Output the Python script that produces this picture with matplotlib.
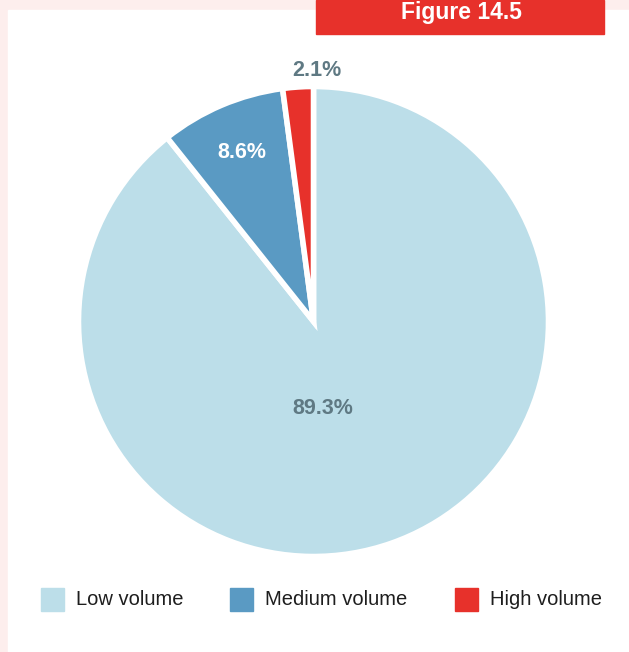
import matplotlib.pyplot as plt
from matplotlib.patches import Rectangle

plt.rcParams['font.family'] = ['Liberation Sans', 'DejaVu Sans']

categories = ['Low volume', 'Medium volume', 'High volume']
shares = [89.3, 8.6, 2.1]
colors = ['#bcdee9', '#5a9ac3', '#e7312b']

W, H = 629, 652
fig = plt.figure(figsize=(W / 100, H / 100), dpi=100)
fig.patch.set_facecolor('#fdeeed')

# white panel on the pinkish page
bg = fig.add_axes([0, 0, 1, 1])
bg.set_xlim(0, W)
bg.set_ylim(H, 0)
bg.axis('off')
bg.add_patch(Rectangle((8, 10), W, H, color='white', zorder=0))
bg.add_patch(Rectangle((316, 0), 288, 34, color='#e7312b', zorder=1))
bg.text(461, 13, 'Figure 14.5', color='white', fontsize=16.5, fontweight='bold',
        ha='center', va='center', zorder=2)

# pie in pixel-like coordinates (y up)
ax = fig.add_axes([0, 0, 1, 1])
ax.patch.set_alpha(0)
cx, cy, r = 313.5, H - 321.5, 235
wedges, _ = ax.pie(shares, colors=colors, startangle=90, counterclock=False,
                   center=(cx, cy), radius=r,
                   wedgeprops=dict(edgecolor='white', linewidth=4))
ax.set_xlim(0, W)
ax.set_ylim(0, H)
ax.set_aspect('auto')
ax.axis('off')

label_pos = [(323, 408), (242, 153), (317, 70)]
label_col = ['#5f7983', 'white', '#5f7983']
for s, (x, y), c in zip(shares, label_pos, label_col):
    ax.text(x, H - y, f'{s}%', color=c, fontsize=15.5, fontweight='bold',
            ha='center', va='center')

# legend row
leg_x = [41, 230, 455]
for name, col, x in zip(categories, colors, leg_x):
    bg.add_patch(Rectangle((x, 588), 23, 23, color=col, zorder=2))
    bg.text(x + 35, 599.5, name, color='#1e1e1e', fontsize=14.5,
            ha='left', va='center', zorder=2)

fig.savefig('out.png', dpi=100, facecolor=fig.get_facecolor())
